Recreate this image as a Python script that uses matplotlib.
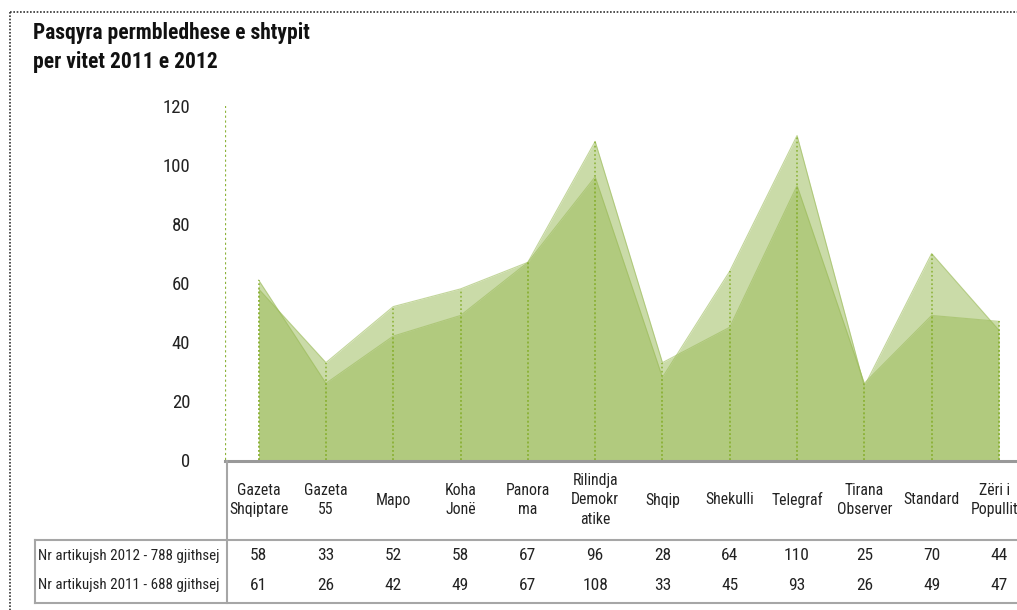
import matplotlib.pyplot as plt
from matplotlib import font_manager
from matplotlib.lines import Line2D

# Data
papers = ['Gazeta\nShqiptare', 'Gazeta\n55', 'Mapo', 'Koha\nJonë', 'Panora\nma',
          'Rilindja\nDemokr\natike', 'Shqip', 'Shekulli', 'Telegraf', 'Tirana\nObserver',
          'Standard', 'Zëri i\nPopullit']
articles_2012 = [58, 33, 52, 58, 67, 96, 28, 64, 110, 25, 70, 44]
articles_2011 = [61, 26, 42, 49, 67, 108, 33, 45, 93, 26, 49, 47]
row_labels = ['Nr artikujsh 2012 - 788 gjithsej', 'Nr artikujsh 2011 - 688 gjithsej']
y_ticks = [0, 20, 40, 60, 80, 100, 120]

# pick a narrow font if one is installed (reference uses a condensed face)
names = {f.name for f in font_manager.fontManager.ttflist}
narrow = None
for cand in ['Roboto Condensed', 'Liberation Sans Narrow', 'Open Sans Condensed',
             'DejaVu Sans Condensed', 'Noto Sans Condensed', 'Arial Narrow']:
    if cand in names:
        narrow = cand
        break
scale = 1.0
if narrow is None:
    narrow = 'DejaVu Sans'
    scale = 0.78
plt.rcParams['font.family'] = [narrow, 'DejaVu Sans']

W, H = 1017, 610
fig = plt.figure(figsize=(W / 100, H / 100), dpi=100)


def fx(px):
    return px / W


def fy(py):
    return 1 - py / H


# axes: left edge x=225, zero at y=460, 120 at y=106; 12 columns of ~67px
ax_left, ax_bottom, ax_top = 225, 460, 106
ax_w = 12 * 67.3
ax = fig.add_axes([fx(ax_left), fy(ax_bottom), ax_w / W, (ax_bottom - ax_top) / H])

x = list(range(len(papers)))
green = '#9bbb59'
for series in (articles_2012, articles_2011):
    ax.fill_between(x, series, 0, color=green, alpha=0.52, linewidth=0)
    ax.plot(x, series, color=green, lw=0.8, alpha=0.6)
    ax.vlines(x, 0, series, colors='#8db33a', linestyles=(0, (1, 1.5)), lw=1.2)

ax.set_xlim(-0.5, 11.5)
ax.set_ylim(0, 120)
for s in ax.spines.values():
    s.set_visible(False)
ax.axvline(-0.5, color='#8db33a', linestyle=(0, (1, 1.2)), lw=1.6)
ax.set_xticks([])
ax.set_yticks(y_ticks)
ax.set_yticklabels([str(v) for v in y_ticks], fontsize=13.5 * scale, color='#222222')
ax.tick_params(axis='y', length=0, pad=25)


def ay(py):
    # figure pixel row -> axes fraction
    return (ax_bottom - py) / (ax_bottom - ax_top)


txt = '#222222'
xt = ax.get_xaxis_transform()
for i, name in enumerate(papers):
    xi = i - 0.06 if i == len(papers) - 1 else i   # keep the last header inside the figure
    ax.text(xi, ay(500), name, transform=xt, ha='center', va='center', fontsize=11.3 * scale,
            color=txt, linespacing=1.4, clip_on=False)
    ax.text(i, ay(556), str(articles_2012[i]), transform=xt, ha='center', va='center',
            fontsize=12.5 * scale, color=txt, clip_on=False)
    ax.text(i, ay(585), str(articles_2011[i]), transform=xt, ha='center', va='center',
            fontsize=12.5 * scale, color=txt, clip_on=False)

for label, py in zip(row_labels, (556, 585)):
    fig.text(fx(38), fy(py), label, ha='left', va='center', fontsize=10.8 * scale, color=txt)

# table grid
grid = '#a6a6a6'
fig.add_artist(Line2D([fx(225), 1], [fy(461), fy(461)], color='#999999', lw=2.2))
fig.add_artist(Line2D([fx(35), 1], [fy(540), fy(540)], color=grid, lw=1.5))
fig.add_artist(Line2D([fx(35), 1], [fy(603), fy(603)], color=grid, lw=1.5))
fig.add_artist(Line2D([fx(227), fx(227)], [fy(461), fy(603)], color=grid, lw=1.5))
fig.add_artist(Line2D([fx(35), fx(35)], [fy(540), fy(603)], color=grid, lw=1.5))

# dotted frame
fig.add_artist(Line2D([fx(10), 1], [fy(12), fy(12)], color='#333333', lw=1.2, linestyle=(0, (1, 1))))
fig.add_artist(Line2D([fx(10), fx(10)], [fy(12), 0], color='#333333', lw=1.2, linestyle=(0, (1, 1))))

fig.text(fx(33), fy(33), 'Pasqyra permbledhese e shtypit', fontsize=15.5 * scale, fontweight='bold',
         color='#111111', ha='left', va='center')
fig.text(fx(33), fy(62), 'per vitet 2011 e 2012', fontsize=15.5 * scale, fontweight='bold',
         color='#111111', ha='left', va='center')

fig.savefig('out.png', dpi=100)
